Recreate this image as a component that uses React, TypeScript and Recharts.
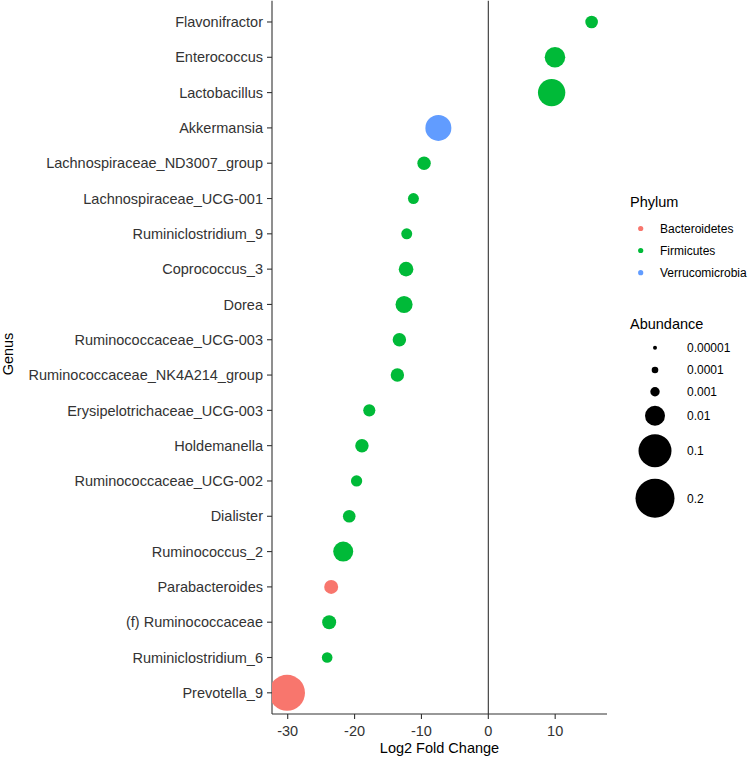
import React from 'react';
import { ScatterChart, Scatter, XAxis, YAxis, ReferenceLine } from 'recharts';

const genera = [
  'Flavonifractor',
  'Enterococcus',
  'Lactobacillus',
  'Akkermansia',
  'Lachnospiraceae_ND3007_group',
  'Lachnospiraceae_UCG-001',
  'Ruminiclostridium_9',
  'Coprococcus_3',
  'Dorea',
  'Ruminococcaceae_UCG-003',
  'Ruminococcaceae_NK4A214_group',
  'Erysipelotrichaceae_UCG-003',
  'Holdemanella',
  'Ruminococcaceae_UCG-002',
  'Dialister',
  'Ruminococcus_2',
  'Parabacteroides',
  '(f) Ruminococcaceae',
  'Ruminiclostridium_6',
  'Prevotella_9',
];

const log2FoldChange = [
  15.45, 9.97, 9.47, -7.47, -9.61, -11.2, -12.2, -12.3, -12.6, -13.3,
  -13.6, -17.8, -18.9, -19.7, -20.8, -21.7, -23.5, -23.8, -24.1, -30.1,
];

const phyla = [
  'Firmicutes', 'Firmicutes', 'Firmicutes', 'Verrucomicrobia', 'Firmicutes',
  'Firmicutes', 'Firmicutes', 'Firmicutes', 'Firmicutes', 'Firmicutes',
  'Firmicutes', 'Firmicutes', 'Firmicutes', 'Firmicutes', 'Firmicutes',
  'Firmicutes', 'Bacteroidetes', 'Firmicutes', 'Firmicutes', 'Bacteroidetes',
];

const abundance = [
  0.002, 0.011, 0.037, 0.029, 0.0024, 0.0014, 0.0014, 0.0031, 0.0053, 0.0024,
  0.0024, 0.0018, 0.0024, 0.0015, 0.002, 0.01, 0.0027, 0.0027, 0.0013, 0.14,
];

const phylumNames = ['Bacteroidetes', 'Firmicutes', 'Verrucomicrobia'];
const phylumColors = ['#F8766D', '#00BA38', '#619CFF'];

const abundanceBreaks = [0.00001, 0.0001, 0.001, 0.01, 0.1, 0.2];
const abundanceLabels = ['0.00001', '0.0001', '0.001', '0.01', '0.1', '0.2'];
const breakRadii = [2, 3.3, 4.7, 10, 16.5, 19.5];

const xTicks = [-30, -20, -10, 0, 10];

const FONT = '"Liberation Sans", Arial, sans-serif';

function radiusFor(v: number): number {
  const lv = Math.log10(v);
  const lb = abundanceBreaks.map((b) => Math.log10(b));
  if (lv <= lb[0]) return breakRadii[0];
  for (let i = 1; i < lb.length; i++) {
    if (lv <= lb[i]) {
      const t = (lv - lb[i - 1]) / (lb[i] - lb[i - 1]);
      return breakRadii[i - 1] + t * (breakRadii[i] - breakRadii[i - 1]);
    }
  }
  return breakRadii[breakRadii.length - 1];
}

function colorFor(p: string): string {
  return phylumColors[phylumNames.indexOf(p)];
}

const n = genera.length;
const data = genera.map((g, i) => ({
  genus: g,
  pos: n - i,
  lfc: log2FoldChange[i],
  phylum: phyla[i],
  abundance: abundance[i],
}));

const yTicks = genera.map((_, i) => n - i);

const PointShape = (props: any) => {
  const { cx, cy, payload } = props;
  if (cx == null || cy == null) return null;
  return <circle cx={cx} cy={cy} r={radiusFor(payload.abundance)} fill={colorFor(payload.phylum)} />;
};

export default function App() {
  const abundanceY = [347.7, 370, 391.7, 415.7, 450.7, 498.3];
  const phylumY = [228.5, 250.5, 272.7];
  return (
    <div style={{ position: 'absolute', left: 0, top: 0, width: 749, height: 758, fontFamily: FONT, background: '#fff' }}>
      <ScatterChart width={749} height={758} margin={{ top: 0.8, right: 142, bottom: 14, left: 0 }}>
        <XAxis
          type="number"
          dataKey="lfc"
          domain={[-32.35, 17.75]}
          ticks={xTicks}
          allowDataOverflow
          height={30}
          tickSize={5}
          tickMargin={7}
          axisLine={{ stroke: '#333', strokeWidth: 1.1 }}
          tickLine={{ stroke: '#333', strokeWidth: 1.1 }}
          tick={{ fill: '#333', fontSize: 14.5, fontFamily: FONT }}
          interval={0}
        />
        <YAxis
          type="number"
          dataKey="pos"
          domain={[0.4, n + 0.6]}
          ticks={yTicks}
          allowDataOverflow
          width={272}
          tickSize={5}
          tickMargin={4}
          interval={0}
          axisLine={{ stroke: '#333', strokeWidth: 1.1 }}
          tickLine={{ stroke: '#333', strokeWidth: 1.1 }}
          tick={{ fill: '#333', fontSize: 14.5, fontFamily: FONT }}
          tickFormatter={(v: number) => genera[n - v]}
        />
        <ReferenceLine x={0} stroke="#333" strokeWidth={1.1} />
        <Scatter data={data} isAnimationActive={false} shape={PointShape} />
      </ScatterChart>
      <svg
        width={749}
        height={758}
        style={{ position: 'absolute', left: 0, top: 0, pointerEvents: 'none', fontFamily: FONT }}
      >
        <text x={439.5} y={753} textAnchor="middle" fontSize={14.5} fill="#000">
          Log2 Fold Change
        </text>
        <text x={13} y={354} textAnchor="middle" fontSize={14.5} fill="#000" transform="rotate(-90 13 354)">
          Genus
        </text>
        <text x={630} y={207} fontSize={14.5} fill="#000">
          Phylum
        </text>
        {phylumNames.map((p, i) => (
          <g key={p}>
            <circle cx={640.7} cy={phylumY[i]} r={2.6} fill={phylumColors[i]} />
            <text x={660} y={phylumY[i] + 4.3} fontSize={12} fill="#000">
              {p}
            </text>
          </g>
        ))}
        <text x={630} y={329} fontSize={14.5} fill="#000">
          Abundance
        </text>
        {abundanceBreaks.map((b, i) => (
          <g key={abundanceLabels[i]}>
            <circle cx={655} cy={abundanceY[i]} r={radiusFor(b)} fill="#000" />
            <text x={687} y={abundanceY[i] + 4.3} fontSize={12} fill="#000">
              {abundanceLabels[i]}
            </text>
          </g>
        ))}
      </svg>
    </div>
  );
}
